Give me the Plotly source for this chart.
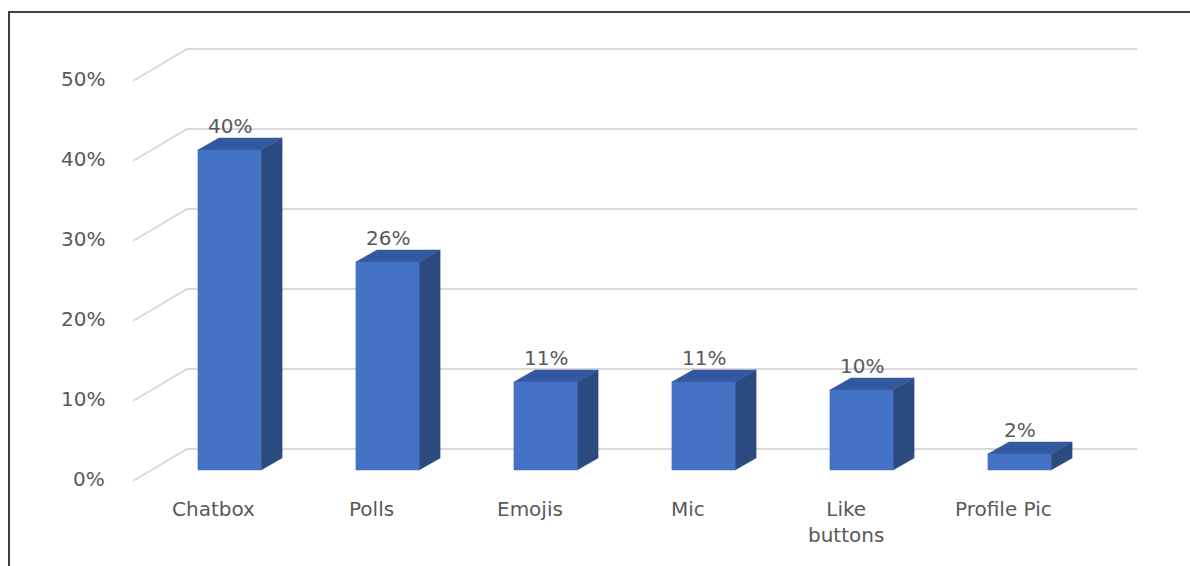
import plotly.graph_objects as go

# Chart data
categories = ["Chatbox", "Polls", "Emojis", "Mic", "Like<br>buttons", "Profile Pic"]
values = [40, 26, 11, 11, 10, 2]
tick_values = [0, 10, 20, 30, 40, 50]
tick_labels = ["0%", "10%", "20%", "30%", "40%", "50%"]

# Oblique-projection geometry (axis units: x = category index, y = percent)
BAR_W = 0.4          # width of a bar's front face
BAR_DX, BAR_DY = 0.133, 1.5   # bar depth offset
FRONT_X, FRONT_DY = -0.611, -1.375   # front edge of the floor/walls
BACK_X, BACK_DY = -0.269, 2.625      # back wall left edge
BACK_RIGHT = 5.744                   # back wall right edge
LABEL_DX = -0.1                      # category labels sit on the front plane

FRONT_COLOR = "#4472C4"
TOP_COLOR = "#3358A0"
SIDE_COLOR = "#2A4A80"
GRID_COLOR = "#D9D9D9"
TEXT_COLOR = "#595959"
FONT = "DejaVu Sans"
FONT_SIZE = 20

fig = go.Figure()

# Gridlines: diagonal on the side wall, then horizontal on the back wall
for t in tick_values:
    fig.add_trace(go.Scatter(
        x=[FRONT_X, BACK_X, BACK_RIGHT],
        y=[t + FRONT_DY, t + BACK_DY, t + BACK_DY],
        mode="lines", line=dict(color=GRID_COLOR, width=2),
        hoverinfo="skip", showlegend=False,
    ))


def poly(xs, ys, color):
    fig.add_trace(go.Scatter(
        x=xs + [xs[0]], y=ys + [ys[0]], mode="lines", fill="toself",
        fillcolor=color, line=dict(color=color, width=0.5),
        hoverinfo="skip", showlegend=False,
    ))


for i, v in enumerate(values):
    xl, xr = i - BAR_W / 2, i + BAR_W / 2
    # right side face
    poly([xr, xr + BAR_DX, xr + BAR_DX, xr], [0, BAR_DY, v + BAR_DY, v], SIDE_COLOR)
    # top face
    poly([xl, xr, xr + BAR_DX, xl + BAR_DX], [v, v, v + BAR_DY, v + BAR_DY], TOP_COLOR)
    # front face
    poly([xl, xr, xr, xl], [0, 0, v, v], FRONT_COLOR)

annotations = []
# value labels above each bar
for i, v in enumerate(values):
    annotations.append(dict(
        x=i, y=v + BAR_DY, text=f"{v}%", showarrow=False,
        xanchor="center", yanchor="bottom", yshift=-2,
        font=dict(family=FONT, size=FONT_SIZE, color=TEXT_COLOR),
    ))
# category labels
for i, c in enumerate(categories):
    annotations.append(dict(
        x=i + LABEL_DX, y=FRONT_DY, text=c, showarrow=False,
        xanchor="center", yanchor="top", yshift=-14,
        font=dict(family=FONT, size=FONT_SIZE, color=TEXT_COLOR),
    ))
# value-axis labels
for t, lab in zip(tick_values, tick_labels):
    annotations.append(dict(
        x=FRONT_X, y=t + FRONT_DY, text=lab, showarrow=False,
        xanchor="right", yanchor="middle", xshift=-26, yshift=2,
        font=dict(family=FONT, size=FONT_SIZE, color=TEXT_COLOR),
    ))

fig.update_layout(
    width=1190, height=566,
    margin=dict(l=0, r=0, t=0, b=0),
    paper_bgcolor="white", plot_bgcolor="white",
    xaxis=dict(range=[-1.4525, 6.0791], visible=False, fixedrange=True),
    yaxis=dict(range=[-12, 58.75], visible=False, fixedrange=True),
    annotations=annotations,
    shapes=[dict(
        type="rect", xref="paper", yref="paper",
        x0=9 / 1190, x1=1.02, y0=-0.02, y1=1 - 12 / 566,
        line=dict(color="#404040", width=2),
    )],
    showlegend=False,
)

fig.write_html("out.html")
